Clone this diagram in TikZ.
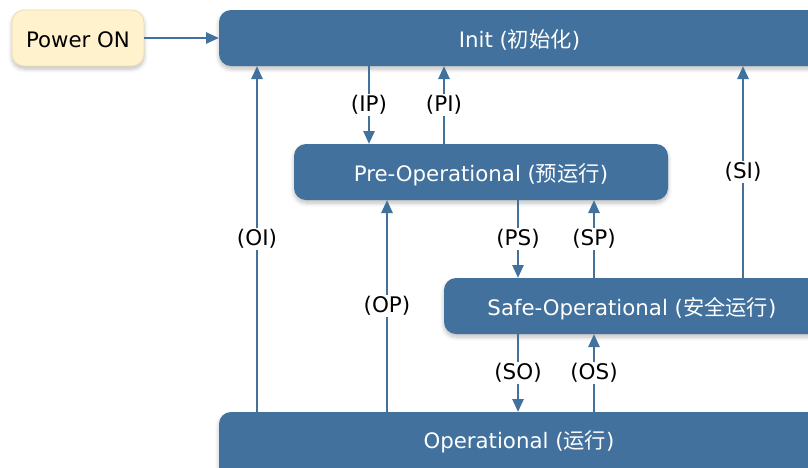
\documentclass[tikz,border=0pt]{standalone}
\usepackage{fontspec}
\setmainfont{DejaVu Sans}
\newfontfamily\cjk{Noto Sans CJK SC}
\usetikzlibrary{arrows.meta,shadows.blur}
\definecolor{stblue}{RGB}{65,113,156}
\definecolor{pwfill}{RGB}{255,242,204}
\definecolor{pwdraw}{RGB}{236,222,180}
\begin{document}
\begin{tikzpicture}[x=1pt,y=-1pt,
  box/.style={rectangle, rounded corners=12pt, inner sep=0pt, outer sep=0pt,
    anchor=north west, font=\fontsize{21.3}{24}\selectfont, text height=20pt, text depth=1.3pt,
    blur shadow={shadow xshift=0pt, shadow yshift=-3pt, shadow blur steps=6, shadow opacity=25, shadow blur radius=4pt}},
  statebox/.style={box, fill=stblue, text=white},
  arr/.style={draw=stblue, line width=2.6pt, -{Triangle[length=13pt,width=11pt]}},
  lab/.style={fill=white, inner sep=1.5pt, text=black, font=\fontsize{21.5}{24}\selectfont}]
\useasboundingbox (0,0) rectangle (808,467);
\clip (0,0) rectangle (808,467);

\node[box, fill=pwfill, draw=pwdraw, line width=0.8pt, minimum width=132pt, minimum height=56pt] (pw) at (12,10) {Power ON};
\node[statebox, minimum width=601pt, minimum height=56pt] (init) at (219,10) {Init ({\cjk 初始化})};
\node[statebox, minimum width=374pt, minimum height=56pt] (pre) at (294,144) {Pre-Operational ({\cjk 预运行})};
\node[statebox, minimum width=376pt, minimum height=56pt] (safe) at (444,278) {Safe-Operational ({\cjk 安全运行})};
\node[statebox, minimum width=601pt, minimum height=70pt] (op) at (219,412) {};
\node[text=white, font=\fontsize{21.3}{24}\selectfont] (optext) at (519,441.5) {Operational ({\cjk 运行})};

\coordinate (xOI) at (257,0);
\coordinate (xIP) at (369,0);
\coordinate (xOP) at (387,0);
\coordinate (xPI) at (444,0);
\coordinate (xPS) at (518,0);
\coordinate (xSP) at (594,0);
\coordinate (xSI) at (743,0);

\draw[arr] (pw.east) -- (init.west |- pw.east);
\draw[arr] (init.south -| xIP) -- node[lab]{(IP)} (pre.north -| xIP);
\draw[arr] (pre.north -| xPI) -- node[lab]{(PI)} (init.south -| xPI);
\draw[arr] (op.north -| xOI) -- node[lab]{(OI)} (init.south -| xOI);
\draw[arr] (safe.north -| xSI) -- node[lab]{(SI)} (init.south -| xSI);
\draw[arr] (pre.south -| xPS) -- node[lab]{(PS)} (safe.north -| xPS);
\draw[arr] (safe.north -| xSP) -- node[lab]{(SP)} (pre.south -| xSP);
\draw[arr] (op.north -| xOP) -- node[lab]{(OP)} (pre.south -| xOP);
\draw[arr] (safe.south -| xPS) -- node[lab]{(SO)} (op.north -| xPS);
\draw[arr] (op.north -| xSP) -- node[lab]{(OS)} (safe.south -| xSP);
\end{tikzpicture}
\end{document}
